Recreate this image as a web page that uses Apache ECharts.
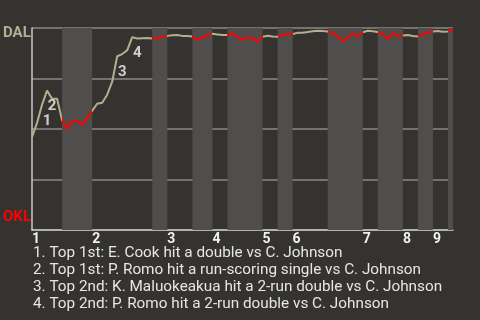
<!DOCTYPE html>
<html><head><meta charset="utf-8">
<script src="https://cdn.jsdelivr.net/npm/echarts@6/dist/echarts.min.js"></script>
<style>html,body{margin:0;padding:0;background:#353330}#c{width:480px;height:320px}</style>
</head><body><div id="c"></div>
<script>
// win probability for DAL after each plate appearance (0 = OKL, 1 = DAL)
const winProb = [0.46,0.53,0.62,0.69,0.65,0.65,0.545,0.50,0.54,0.54,0.52,0.555,0.59,0.625,0.63,
0.67,0.734,0.86,0.871,0.89,0.955,0.948,0.949,0.95,0.948,0.949,0.956,0.961,0.964,0.965,
0.961,0.96,0.958,0.941,0.953,0.964,0.971,0.968,0.965,0.965,0.973,0.955,0.943,0.951,0.952,
0.931,0.957,0.962,0.958,0.957,0.964,0.97,0.97,0.976,0.977,0.98,0.984,0.986,0.985,0.983,
0.975,0.958,0.933,0.953,0.973,0.958,0.979,0.986,0.984,0.98,0.968,0.946,0.975,0.96,0.963,
0.965,0.96,0.958,0.968,0.978,0.983,0.985,0.982,0.983,0.995];
// plate-appearance index where each half inning starts (top 1, bottom 1, top 2, ...), plus end
const halfStarts = [0,6,12,24,27,32,36,39,46,49,52,59,66,69,74,77,80,83,84];
const inningLabels = ['1','2','3','4','5','6','7','8','9'];
const eventIdx = [2,3,17,20];
const events = [
 '1. Top 1st: E. Cook hit a double vs C. Johnson',
 '2. Top 1st: P. Romo hit a run-scoring single vs C. Johnson',
 '3. Top 2nd: K. Maluokeakua hit a 2-run double vs C. Johnson',
 '4. Top 2nd: P. Romo hit a 2-run double vs C. Johnson'
];
const teamTop = 'DAL', teamBottom = 'OKL';

const BEIGE = '#b4ad8e', RED = '#ff0000';
const lineData = winProb.map((v,i)=>[i,v]);
const bottomBands = [], pieces = [];
for (let h=0; h<halfStarts.length-1; h++) {
  const a = halfStarts[h], b = halfStarts[h+1];
  if (h%2===1) bottomBands.push([{xAxis:a},{xAxis:b}]);
  pieces.push({gte:a, lt:(h===halfStarts.length-2? b+1 : b), color: h%2===1 ? RED : BEIGE});
}
const inningStarts = halfStarts.filter((v,i)=>i%2===0 && i<halfStarts.length-1);
const chart = echarts.init(document.getElementById('c'));
const graphics = [
  {type:'text', left:3, top:26, style:{text:teamTop, fill:BEIGE, font:'bold 15px Roboto'}},
  {type:'text', left:3, top:210, style:{text:teamBottom, fill:RED, font:'bold 15px Roboto'}}
];
events.forEach((t,i)=>graphics.push({type:'text', left:33, top:246+i*17, style:{text:t, fill:'#e6e6e6', font:'15.3px Roboto'}}));
chart.setOption({
  backgroundColor:'#353330',
  animation:false,
  grid:{left:32, right:27, top:28, bottom:90},
  xAxis:{type:'value', min:0, max:84,
    axisLine:{lineStyle:{color:'#c8c8c8', width:1.5}},
    axisTick:{show:false}, splitLine:{show:false},
    axisLabel:{customValues: inningStarts, color:'#f0f0f0', fontWeight:'bold', fontSize:14, fontFamily:'Roboto',
      align:'left', margin:2, formatter:(v)=>inningLabels[inningStarts.indexOf(v)]}},
  yAxis:{type:'value', min:0, max:1, interval:0.25,
    axisLine:{show:true, lineStyle:{color:'#c8c8c8', width:1.5}},
    axisTick:{show:false}, axisLabel:{show:false},
    splitLine:{lineStyle:{color:'#8a8a88', width:1.5}}},
  visualMap:{show:false, type:'piecewise', dimension:0, seriesIndex:0, pieces:pieces},
  graphic: graphics,
  series:[
    {type:'line', data:lineData, showSymbol:false, lineStyle:{width:2}, z:3,
     markArea:{silent:true, itemStyle:{color:'#504e4c'}, data:bottomBands}},
    {type:'scatter', symbolSize:0, z:4,
     data: eventIdx.map(i=>[i, winProb[i]]),
     label:{show:true, position:'inside', offset:[5,16], color:'#f4f4f4', fontWeight:'bold', fontSize:15, fontFamily:'Roboto',
       formatter:(p)=>String(p.dataIndex+1)}}
  ]
});
</script></body></html>
